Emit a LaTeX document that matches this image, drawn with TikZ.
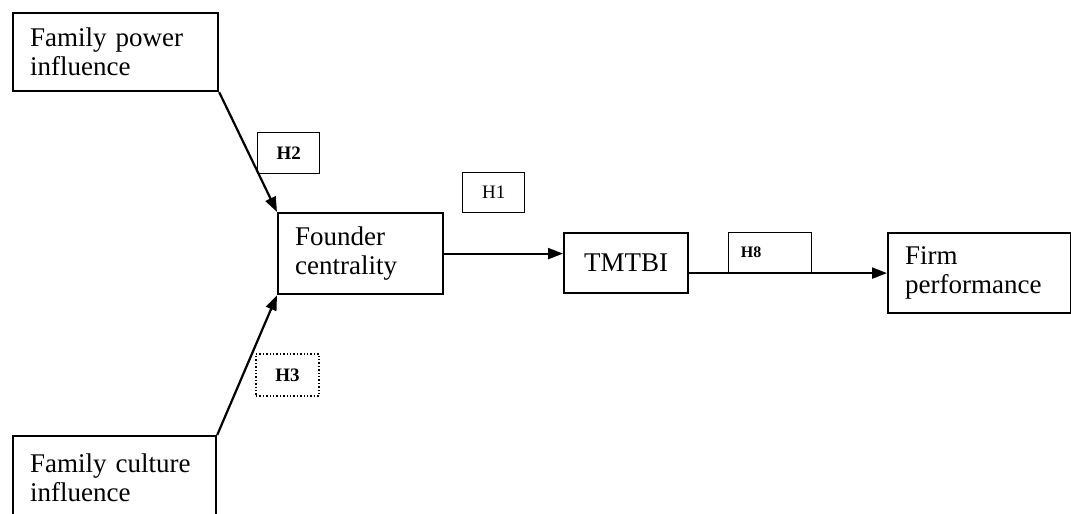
\documentclass[tikz,border=0pt]{standalone}
\usepackage{fontspec}
\setmainfont{Liberation Serif}
\usetikzlibrary{arrows.meta}
\tikzset{
  var/.style={draw, line width=2.2pt, anchor=north west, align=left,
    inner xsep=17pt, inner ysep=0pt,
    font=\fontsize{27}{29}\selectfont},
  hyp/.style={draw, line width=1.4pt, anchor=north west, align=center,
    inner sep=0pt, font=\fontsize{19}{21}\selectfont\bfseries},
  path/.style={line width=2.2pt, -{Triangle[length=15pt,width=11pt]}},
}
\begin{document}
\begin{tikzpicture}[x=1pt,y=-1pt]
\clip (0,0) rectangle (1071,514);
\fill[white] (0,0) rectangle (1071,514);

% constructs
\node[var, text width=171pt, minimum height=78pt] (fp) at (12,12)
  {Family power\\influence};
\node[var, text width=169pt, minimum height=84pt] (fcu) at (12,435)
  {Family culture\\influence};
\node[var, text width=131pt, minimum height=81pt] (fc) at (277,212)
  {Founder\\centrality};
\node[var, inner xsep=20pt, text width=84pt, minimum height=60pt] (tm) at (563,232)
  {TMTBI};
\node[var, text width=149pt, minimum height=80pt] (fi) at (887,232)
  {Firm\\performance};

% hypothesis labels
\node[hyp, minimum width=62pt, minimum height=41pt] (h2) at (257,132) {H2};
\node[hyp, minimum width=62pt, minimum height=40pt, font=\fontsize{19}{21}\selectfont] (h1) at (462,172) {H1};
\node[hyp, dotted, line width=1.8pt, minimum width=63pt, minimum height=42pt] (h3) at (255,353) {H3};
\node[hyp, minimum width=83pt, minimum height=40pt, font=\fontsize{16}{18}\selectfont\bfseries] (h8) at (728,232)
  {\hspace*{-38pt}H8};

% paths
\draw[path] (fp.south east) -- (fc.north west);
\draw[path] (fcu.north east) -- (fc.south west);
\draw[path] (fc.east) -- (fc.east -| tm.west);
\draw[path] (fi.west -| tm.east) -- (fi.west);
\end{tikzpicture}
\end{document}
